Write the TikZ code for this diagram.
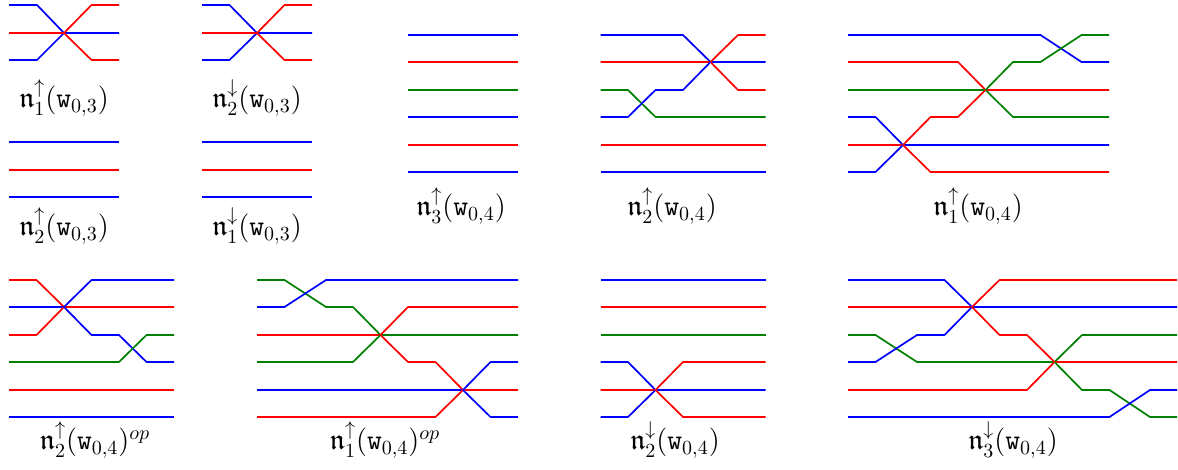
\documentclass[tikz,border=0pt]{standalone}
\usepackage{amsmath,amssymb}
\begin{document}
\begin{tikzpicture}[x=0.5pt,y=-0.5pt,line join=round]
\tikzset{
  bl/.style={draw=blue, line width=0.85pt},
  rd/.style={draw=red, line width=0.85pt},
  gr/.style={draw=green!50!black, line width=0.85pt},
  lab/.style={font=\Large, inner sep=0pt}
}
\useasboundingbox (0,0) rectangle (1178,470);

% ---- A: n1 up (w03)
\draw[bl] (9,5)--(37,5)--(64,33)--(119,33);
\draw[bl] (9,60)--(37,60)--(64,33);
\draw[rd] (9,33)--(64,33)--(91.5,5)--(119,5);
\draw[rd] (64,33)--(91.5,60)--(119,60);
\node[lab] (la) at (64,98) {$\mathfrak{n}_1^{\uparrow}(\mathtt{w}_{0,3})$};

% ---- B: n2 down (w03)
\draw[bl] (202,5)--(229.5,5)--(257,33)--(312,33);
\draw[bl] (202,60)--(229.5,60)--(257,33);
\draw[rd] (202,33)--(257,33)--(284.5,5)--(312,5);
\draw[rd] (257,33)--(284.5,60)--(312,60);
\node[lab] (lb) at (257,98) {$\mathfrak{n}_2^{\downarrow}(\mathtt{w}_{0,3})$};

% ---- C: n2 up (w03)
\draw[bl] (9,142)--(119,142);
\draw[rd] (9,170)--(119,170);
\draw[bl] (9,197)--(119,197);
\node[lab] (lc) at (64,226) {$\mathfrak{n}_2^{\uparrow}(\mathtt{w}_{0,3})$};

% ---- D: n1 down (w03)
\draw[bl] (202,142)--(312,142);
\draw[rd] (202,170)--(312,170);
\draw[bl] (202,197)--(312,197);
\node[lab] (ld) at (257,226) {$\mathfrak{n}_1^{\downarrow}(\mathtt{w}_{0,3})$};

% ---- E: n3 up (w04)
\draw[bl] (408,35)--(518,35);
\draw[rd] (408,62)--(518,62);
\draw[gr] (408,90)--(518,90);
\draw[bl] (408,117)--(518,117);
\draw[rd] (408,145)--(518,145);
\draw[bl] (408,172)--(518,172);
\node[lab] (le) at (461,206) {$\mathfrak{n}_3^{\uparrow}(\mathtt{w}_{0,4})$};

% ---- F: n2 up (w04)
\draw[bl] (600.5,35)--(683,35)--(710.5,62)--(765.5,62);
\draw[rd] (600.5,62)--(710.5,62)--(738,35)--(765.5,35);
\draw[rd] (710.5,62)--(738,90)--(765.5,90);
\draw[gr] (600.5,90)--(628,90)--(655.5,117)--(765.5,117);
\draw[bl] (600.5,117)--(628,117)--(655.5,90)--(683,90)--(710.5,62);
\draw[rd] (600.5,145)--(765.5,145);
\draw[bl] (600.5,172)--(765.5,172);
\node[lab] (lf) at (672,206) {$\mathfrak{n}_2^{\uparrow}(\mathtt{w}_{0,4})$};

% ---- G: n1 up (w04)
\draw[bl] (848,35)--(1040.5,35)--(1081.5,62)--(1109,62);
\draw[rd] (848,62)--(958,62)--(985.5,90)--(1109,90);
\draw[gr] (848,90)--(985.5,90)--(1013,62)--(1040.5,62)--(1081.5,35)--(1109,35);
\draw[gr] (985.5,90)--(1013,117)--(1109,117);
\draw[bl] (848,117)--(875.5,117)--(903,145)--(1109,145);
\draw[rd] (848,145)--(903,145)--(930.5,117)--(958,117)--(985.5,90);
\draw[bl] (848,172)--(875.5,172)--(903,145);
\draw[rd] (903,145)--(930.5,172)--(1109,172);
\node[lab] (lg) at (978,206) {$\mathfrak{n}_1^{\uparrow}(\mathtt{w}_{0,4})$};

% ---- H: n2 up (w04)^op
\draw[rd] (9,280)--(36.5,280)--(64,307)--(174,307);
\draw[bl] (9,307)--(64,307)--(91.5,280)--(174,280);
\draw[rd] (9,335)--(36.5,335)--(64,307);
\draw[bl] (64,307)--(91.5,335)--(119,335)--(146.5,362)--(174,362);
\draw[gr] (9,362)--(119,362)--(146.5,335)--(174,335);
\draw[rd] (9,390)--(174,390);
\draw[bl] (9,417)--(174,417);
\node[lab] (lh) at (95,440) {$\mathfrak{n}_2^{\uparrow}(\mathtt{w}_{0,4})^{op}$};

% ---- I: n1 up (w04)^op
\draw[gr] (257,280)--(284.5,280)--(326,307)--(353,307)--(380.5,335)--(518,335);
\draw[bl] (257,307)--(284.5,307)--(326,280)--(518,280);
\draw[rd] (257,335)--(380.5,335)--(408,307)--(518,307);
\draw[gr] (257,362)--(353,362)--(380.5,335);
\draw[rd] (380.5,335)--(408,362)--(435.5,362)--(463,390)--(518,390);
\draw[bl] (257,390)--(463,390)--(490.5,362)--(518,362);
\draw[rd] (257,417)--(435.5,417)--(463,390);
\draw[bl] (463,390)--(490.5,417)--(518,417);
\node[lab] (li) at (385,440) {$\mathfrak{n}_1^{\uparrow}(\mathtt{w}_{0,4})^{op}$};

% ---- J: n2 down (w04)
\draw[bl] (600.5,280)--(765.5,280);
\draw[rd] (600.5,307)--(765.5,307);
\draw[gr] (600.5,335)--(765.5,335);
\draw[bl] (600.5,362)--(628,362)--(655.5,390)--(765.5,390);
\draw[rd] (600.5,390)--(655.5,390)--(683,362)--(765.5,362);
\draw[bl] (600.5,417)--(628,417)--(655.5,390);
\draw[rd] (655.5,390)--(683,417)--(765.5,417);
\node[lab] (lj) at (675,440) {$\mathfrak{n}_2^{\downarrow}(\mathtt{w}_{0,4})$};

% ---- K: n3 down (w04)
\draw[bl] (848,280)--(944.5,280)--(972,307)--(1177,307);
\draw[rd] (848,307)--(972,307)--(999.5,280)--(1177,280);
\draw[gr] (848,335)--(875.5,335)--(917,362)--(1054.5,362)--(1082,335)--(1177,335);
\draw[bl] (848,362)--(875.5,362)--(917,335)--(944.5,335)--(972,307);
\draw[rd] (972,307)--(999.5,335)--(1027,335)--(1054.5,362)--(1177,362);
\draw[rd] (848,390)--(1027,390)--(1054.5,362);
\draw[gr] (1054.5,362)--(1082,390)--(1109.5,390)--(1150,417)--(1177,417);
\draw[bl] (848,417)--(1109.5,417)--(1150,390)--(1177,390);
\node[lab] (lk) at (1013,440) {$\mathfrak{n}_3^{\downarrow}(\mathtt{w}_{0,4})$};
\end{tikzpicture}
\end{document}
